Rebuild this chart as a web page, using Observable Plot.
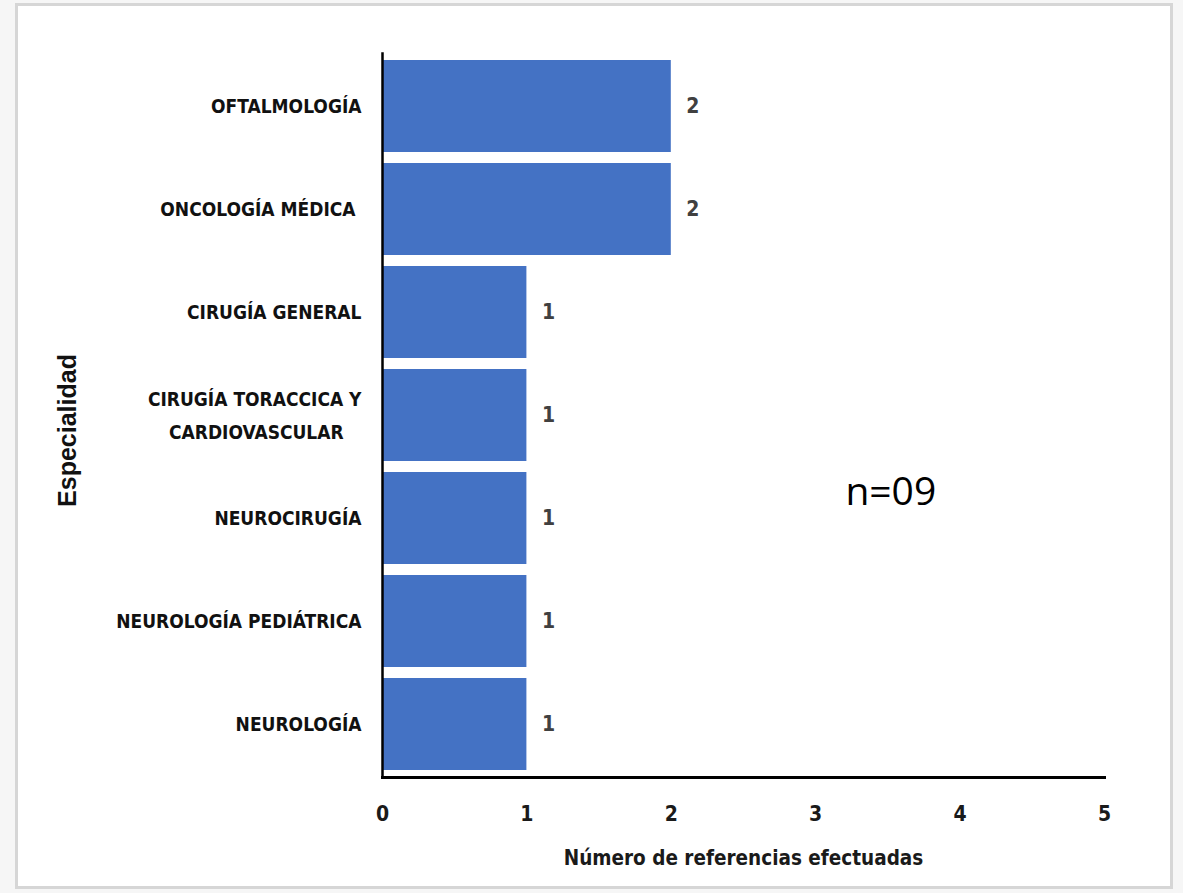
<!DOCTYPE html>
<html>
<head>
<meta charset="utf-8">
<script src="https://cdn.jsdelivr.net/npm/d3@7"></script>
<script src="https://cdn.jsdelivr.net/npm/@observablehq/plot@0.6"></script>
<style>
  html, body { margin: 0; padding: 0; background: #f6f6f6; }
  #wrap { position: relative; width: 1183px; height: 893px; overflow: hidden; }
  #frame { position: absolute; left: 15px; top: 3px; width: 1152px; height: 880px; background: #fff; border: 3px solid #d6d6d6; box-sizing: content-box; }
  #chart { position: absolute; left: 0; top: 0; }
</style>
</head>
<body>
<div id="wrap">
  <div id="frame"></div>
  <div id="chart"></div>
</div>
<script>
const categories = [
  "OFTALMOLOGÍA",
  "ONCOLOGÍA MÉDICA\u00a0",
  "CIRUGÍA GENERAL",
  "CIRUGÍA TORACCICA Y\nCARDIOVASCULAR\u00a0\u00a0\u00a0",
  "NEUROCIRUGÍA",
  "NEUROLOGÍA PEDIÁTRICA",
  "NEUROLOGÍA"
];
const values = [2, 2, 1, 1, 1, 1, 1];
const xTicks = [0, 1, 2, 3, 4, 5];
const xLabel = "Número de referencias efectuadas";
const yLabel = "Especialidad";
const nNote = ["n=09"];
const nNoteX = [3.52];
const nNoteY = ["NEUROCIRUGÍA"];

const data = categories.map((c, i) => ({ cat: c, value: values[i] }));
const narrow = "'Liberation Sans Narrow', 'DejaVu Sans Condensed', 'Roboto Condensed', sans-serif";

const chart = Plot.plot({
  width: 1183,
  height: 893,
  marginLeft: 382,
  marginRight: 79,
  marginTop: 53,
  marginBottom: 116,
  style: { background: "transparent", fontFamily: narrow, overflow: "visible" },
  x: { domain: [0, 5], ticks: xTicks },
  y: { domain: categories, paddingInner: 0.109, paddingOuter: 0.058 },
  marks: [
    Plot.barX(data, { x: "value", y: "cat", fill: "#4472C4" }),
    Plot.text(data, {
      x: "value", y: "cat", text: d => String(d.value),
      textAnchor: "start", dx: 15, fill: "#404040",
      fontSize: 21, fontWeight: "bold", fontFamily: narrow
    }),
    Plot.axisX({
      ticks: xTicks, tickFormat: "d", tickSize: 0, tickPadding: 29,
      fontSize: 21, fontWeight: "bold", fill: "#1a1a1a",
      label: xLabel, labelAnchor: "center", labelArrow: "none", labelOffset: 87
    }),
    Plot.axisY({
      tickSize: 0, tickPadding: 21, fontSize: 19, fontWeight: "bold", fill: "#111",
      lineHeight: 1.75, dy: -4,
      label: null
    }),
    Plot.text([yLabel], {
      frameAnchor: "left", text: d => d, rotate: -90, textAnchor: "middle",
      dx: -315, dy: 15, fontSize: 25, fontWeight: "bold",
      fontFamily: "'Liberation Sans', Arial, sans-serif", fill: "#111"
    }),
    Plot.text(nNote, {
      x: (d, i) => nNoteX[i], y: (d, i) => nNoteY[i], text: d => d,
      dy: -26, fontSize: 39, fontFamily: "'Open Sans', 'Liberation Sans', sans-serif", fill: "#000"
    }),
    Plot.frame({ anchor: "left", stroke: "#000", strokeWidth: 2.5 }),
    Plot.frame({ anchor: "bottom", stroke: "#000", strokeWidth: 3 })
  ]
});
// enlarge x-axis label font
chart.querySelectorAll("[aria-label='x-axis label']").forEach(g => g.setAttribute("font-size", 20.5));
document.getElementById("chart").appendChild(chart);
</script>
</body>
</html>
